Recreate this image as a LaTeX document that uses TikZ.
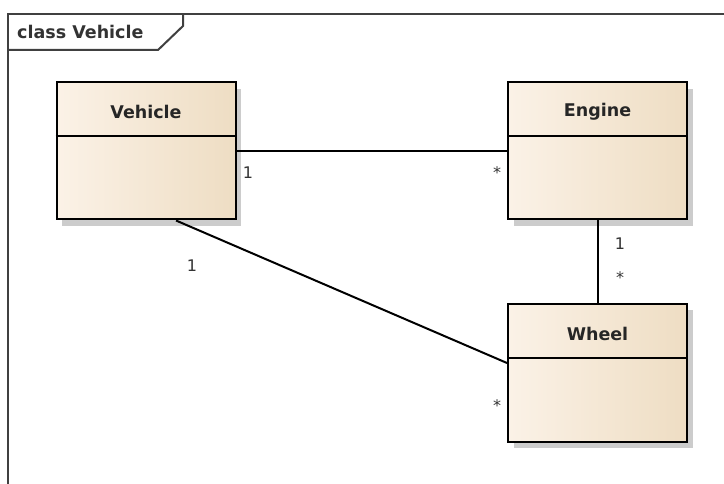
\documentclass[tikz,border=0pt]{standalone}
\usepackage{fontspec}
\setmainfont{DejaVu Sans}
\begin{document}
\begin{tikzpicture}[x=1pt,y=-1pt,
  frameline/.style={draw=black!75,line width=2pt},
  classbox/.style={rectangle,draw=black,line width=2pt,
    left color=cream1,right color=cream2,
    minimum width=179pt,minimum height=137pt,inner sep=0pt},
  shadowbox/.style={fill=black!20,draw=none},
  classname/.style={font=\fontsize{17.5}{20}\selectfont\bfseries,text=black!85},
  assoc/.style={draw=black,line width=2pt},
  mult/.style={font=\fontsize{16}{18}\selectfont,text=black!80,inner sep=0pt}]
\definecolor{cream1}{HTML}{FBF2E7}
\definecolor{cream2}{HTML}{EEDDC3}
\useasboundingbox[fill=white] (0,0) rectangle (724,484);

% diagram frame with its name tab
\draw[frameline] (8,490) -- (8,14) -- (730,14);
\draw[frameline] (183,14) -- (183,26) -- (158,50) -- (8,50);
\node[anchor=west,font=\fontsize{17.5}{20}\selectfont\bfseries,text=black!80,inner sep=0pt]
  (frametitle) at (17,32) {class Vehicle};

% shadows behind the class boxes
\fill[shadowbox] (62,89) rectangle (241,226);
\fill[shadowbox] (514,89) rectangle (693,226);
\fill[shadowbox] (514,310) rectangle (693,448);

% class boxes
\node[classbox] (veh) at (146,151) {};
\node[classbox] (eng) at (597.5,151) {};
\node[classbox,minimum height=138pt] (whl) at (597.5,373) {};

% compartment dividers
\draw[line width=1.6pt] (veh.west |- 0,136) -- (veh.east |- 0,136);
\draw[line width=1.6pt] (eng.west |- 0,136) -- (eng.east |- 0,136);
\draw[line width=1.6pt] (whl.west |- 0,358) -- (whl.east |- 0,358);

% class names
\node[classname] (vehname) at (146,112) {Vehicle};
\node[classname] (engname) at (597.5,112) {Engine};
\node[classname] (whlname) at (597.5,334) {Wheel};

% associations
\draw[assoc] (veh.east) -- (eng.west);
\draw[assoc] (eng.south) -- (whl.north);
\draw[assoc] ([xshift=30pt]veh.south) -- ([yshift=10pt]whl.west);

% multiplicities
\node[mult] (m1) at (248,173) {1};
\node[mult] (m2) at (497,173) {*};
\node[mult] (m3) at (620,244) {1};
\node[mult] (m4) at (620,278) {*};
\node[mult] (m5) at (192,266) {1};
\node[mult] (m6) at (497,406) {*};
\end{tikzpicture}
\end{document}
